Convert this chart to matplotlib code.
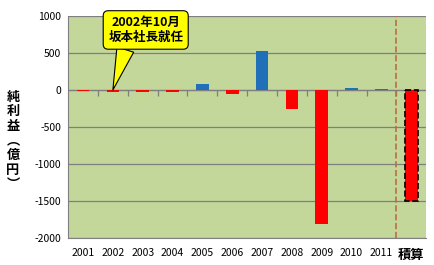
import matplotlib
matplotlib.use('Agg')
import matplotlib.pyplot as plt
import numpy as np

plt.rcParams['font.family'] = ['Noto Sans CJK JP', 'DejaVu Sans']

# 年度別の純利益（億円）
years = ['2001', '2002', '2003', '2004', '2005', '2006', '2007', '2008', '2009', '2010', '2011', '積算']
profit = [-15, -30, -30, -30, 80, -55, 525, -255, -1810, 30, 10, -1500]

yticks = [1000, 500, 0, -500, -1000, -1500, -2000]

x = np.arange(len(years))
colors = ['#1F70B8' if v > 0 else '#FF0000' for v in profit]

fig = plt.figure(figsize=(4.34, 2.65), dpi=100)
ax = fig.add_axes([0.157, 0.102, 0.825, 0.838])
ax.set_facecolor('#C4D79B')

ax.set_ylim(-2000, 1000)
ax.set_xlim(-0.5, len(years) - 0.5)
ax.set_yticks(yticks)
ax.set_yticklabels([str(t) for t in yticks], fontsize=7.5)
ax.grid(axis='y', color='#7F7F7F', linewidth=0.9)
ax.set_axisbelow(True)

ax.bar(x[:-1], profit[:-1], width=0.42, color=colors[:-1], zorder=3)
ax.bar(x[-1], profit[-1], width=0.45, color=colors[-1], edgecolor='black',
       linestyle='--', linewidth=1.2, zorder=3)

# 0 の軸線と目盛
ax.axhline(0, color='#7F7F7F', linewidth=0.9, zorder=2)
ax.plot(x[:-1] + 0.5, np.zeros(len(x) - 1), linestyle='none', marker=3,
        color='#7F7F7F', markersize=4, markeredgewidth=0.9, zorder=2)

# 積算との境界線
ax.axvline(x[-1] - 0.5, color='#B8703F', linestyle='--', linewidth=1.2, zorder=2)

ax.set_xticks(x)
ax.set_xticklabels(years, fontsize=7.5)
lbls = ax.get_xticklabels()
lbls[-1].set_fontweight('bold')
lbls[-1].set_fontsize(9.5)
ax.tick_params(axis='x', length=0, pad=7)
ax.tick_params(axis='y', length=0, pad=5)

for s in ['top', 'right']:
    ax.spines[s].set_visible(False)
ax.spines['left'].set_color('#7F7F7F')
ax.spines['bottom'].set_color('#7F7F7F')

fig.text(0.03, 0.47, '純\n利\n益\n︵\n億\n円\n︶', fontsize=9.5, fontweight='bold',
         ha='center', va='center', linespacing=1.05)

ax.annotate('2002年10月\n坂本社長就任', xy=(x[1], 0), xytext=(x[2] + 0.1, 810),
            fontsize=9, fontweight='bold', ha='center', va='center', linespacing=1.25,
            bbox=dict(boxstyle='round,pad=0.4', fc='#FFFF00', ec='black', lw=0.8),
            arrowprops=dict(arrowstyle='wedge,tail_width=1.4,shrink_factor=0.5',
                            fc='#FFFF00', ec='black', lw=0.8, shrinkA=0, shrinkB=0,
                            relpos=(0.25, 0.0)),
            zorder=5)

fig.savefig('out.png', dpi=100)
